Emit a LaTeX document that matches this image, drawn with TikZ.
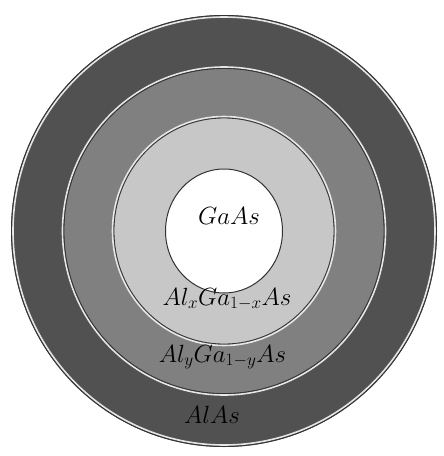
\documentclass[tikz,border=0pt]{standalone}
\begin{document}
\definecolor{ringA}{HTML}{515151}
\definecolor{ringB}{HTML}{808080}
\definecolor{ringC}{HTML}{C7C7C7}
\definecolor{edgeDark}{HTML}{333333}
\definecolor{edgeLight}{HTML}{E6E6E6}
\begin{tikzpicture}[x=1pt,y=-1pt,
  lbl/.style={anchor=base,inner sep=0pt,font=\fontsize{24}{28}\selectfont},
  edgelight/.style={draw=edgeLight,line width=1.6pt},
  edgedark/.style={draw=edgeDark,line width=0.8pt}]
\useasboundingbox (0,0) rectangle (444,456);
\fill[white] (0,0) rectangle (444,456);
\coordinate (c) at (224,231);
\fill[ringA] (c) ellipse [x radius=213, y radius=216];
\fill[ringB] (c) ellipse [x radius=160, y radius=162.5];
\fill[ringC] (c) ellipse [x radius=110, y radius=113];
\fill[white] (c) ellipse [x radius=58.5, y radius=62];
% borders
\draw[edgelight] (c) ellipse [x radius=211, y radius=214];
\draw[edgedark] (c) ellipse [x radius=212.6, y radius=215.6];
\draw[edgelight] (c) ellipse [x radius=161.5, y radius=164];
\draw[edgedark] (c) ellipse [x radius=160, y radius=162.5];
\draw[edgelight] (c) ellipse [x radius=111.5, y radius=114.5];
\draw[edgedark] (c) ellipse [x radius=110, y radius=113];
\draw[edgedark,line width=1pt] (c) ellipse [x radius=58.5, y radius=62];
% labels
\node[lbl] (gaas) at (229,224) {$GaAs$};
\node[lbl] (alx) at (227,305) {$Al_xGa_{1-x}As$};
\node[lbl] (aly) at (222.5,362) {$Al_yGa_{1-y}As$};
\node[lbl] (alas) at (212,423) {$AlAs$};
\end{tikzpicture}
\end{document}
